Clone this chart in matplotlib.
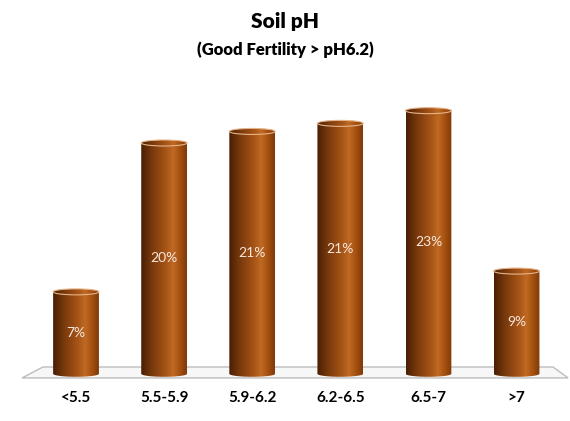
import numpy as np
import matplotlib.pyplot as plt
from matplotlib.colors import LinearSegmentedColormap
from matplotlib.patches import Polygon, Ellipse

# Dati (altezze, etichette come stampate)
categories = ['<5.5', '5.5-5.9', '5.9-6.2', '6.2-6.5', '6.5-7', '>7']
values = [7.1, 20.0, 21.0, 21.7, 22.8, 8.9]
value_labels = ['7%', '20%', '21%', '21%', '23%', '9%']

plt.rcParams['font.family'] = ['Lato', 'DejaVu Sans']

fig = plt.figure(figsize=(5.70, 4.21), dpi=100)
ax = fig.add_axes([0, 0, 1, 1])
ax.set_xlim(-0.863, 5.607)
ax.set_ylim(-4.09, 32.39)
ax.axis('off')

# pavimento
floor = Polygon([(-0.613, -0.36), (5.585, -0.36), (5.414, 0.59), (-0.375, 0.59)],
                closed=True, facecolor='#f7f7f7', edgecolor='#bdbdbd', lw=1.0, zorder=1)
ax.add_patch(floor)

# gradiente cilindro
cmap = LinearSegmentedColormap.from_list('cyl', [
    (0.0, '#4a1e04'), (0.25, '#7a3a0c'), (0.55, '#a85518'),
    (0.7, '#c06a24'), (0.85, '#a4500f'), (1.0, '#7e3a08')])
grad = np.linspace(0, 1, 256).reshape(1, -1)

w = 0.52
eh = 0.26
t_bot = np.linspace(np.pi, 2 * np.pi, 40)
t_top = np.linspace(0, np.pi, 40)
for i, v in enumerate(values):
    x0, x1 = i - w / 2, i + w / 2
    bottom = np.column_stack([i + w / 2 * np.cos(t_bot), eh * np.sin(t_bot)])
    top = np.column_stack([i + w / 2 * np.cos(t_top), v + eh * np.sin(t_top)])
    verts = np.vstack([bottom, top])
    clip = Polygon(verts, closed=True, transform=ax.transData, facecolor='none', edgecolor='none')
    ax.add_patch(clip)
    im = ax.imshow(grad, cmap=cmap, aspect='auto', extent=[x0, x1, -eh, v + eh],
                   interpolation='bicubic', zorder=2)
    im.set_clip_path(clip)
    cap = Ellipse((i, v), w, 2 * eh, facecolor='none', edgecolor='#e6b48a', lw=0.8, zorder=3)
    ax.add_patch(cap)
    ax.text(i, v / 2, value_labels[i], ha='center', va='center', fontsize=10,
            color='#f6e8de', zorder=4)
    ax.text(i, -2.1, categories[i], ha='center', va='center', fontsize=11,
            fontweight='bold', color='black')

fig.text(0.5, 0.948, 'Soil pH', ha='center', va='center', fontsize=15, fontweight='heavy')
fig.text(0.5, 0.881, '(Good Fertility > pH6.2)', ha='center', va='center', fontsize=12,
         fontweight='heavy')

fig.savefig('out.png', dpi=100)
